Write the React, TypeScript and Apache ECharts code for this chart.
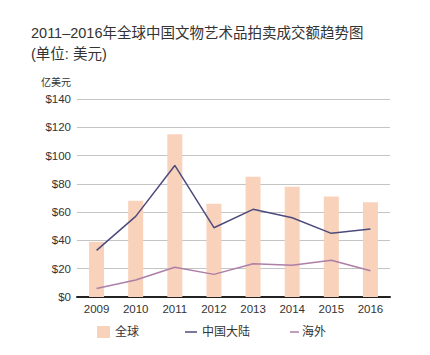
import React, { useEffect, useRef } from "react";
import * as echarts from "echarts";

const years = ["2009", "2010", "2011", "2012", "2013", "2014", "2015", "2016"];
const globalValues = [39, 68, 115, 66, 85, 78, 71, 67];
const mainlandValues = [33, 57, 93, 49, 62, 56, 45, 48];
const overseasValues = [6, 12, 21, 16, 23.5, 22.5, 26, 18.5];
const yTicks = [0, 20, 40, 60, 80, 100, 120, 140];

const FONT = '"Liberation Sans", "Noto Sans CJK SC", sans-serif';

export default function App() {
  const ref = useRef<HTMLDivElement>(null);
  useEffect(() => {
    if (!ref.current) return;
    const chart = echarts.init(ref.current, null, { renderer: "svg" });
    chart.setOption({
      animation: false,
      backgroundColor: "#ffffff",
      title: [
        {
          text: "2011–2016年全球中国文物艺术品拍卖成交额趋势图\n(单位: 美元)",
          left: 31,
          top: 22,
          padding: 0,
          textStyle: { fontFamily: FONT, fontSize: 14.5, fontWeight: "normal", color: "#333", lineHeight: 21.5 },
        },
      ],
      grid: { left: 77, right: 40, top: 99, bottom: 58 },
      xAxis: {
        type: "category",
        data: years,
        boundaryGap: true,
        axisTick: { show: false },
        axisLine: { lineStyle: { color: "#222", width: 2 } },
        axisLabel: { color: "#333", fontSize: 11.5, fontFamily: FONT, margin: 6 },
      },
      yAxis: {
        type: "value",
        min: 0,
        max: 140,
        interval: 20,
        name: "亿美元",
        nameLocation: "end",
        nameGap: 12,
        nameTextStyle: { fontFamily: FONT, fontSize: 10, color: "#333", align: "right", padding: [0, 6, 0, 0] },
        axisLine: { show: false },
        axisTick: { show: false },
        splitLine: { lineStyle: { color: "#c4c4c4", width: 1 } },
        axisLabel: {
          color: "#333",
          fontSize: 11.5,
          fontFamily: FONT,
          margin: 6,
          formatter: (v: number) => (yTicks.includes(v) ? "$" + v : ""),
        },
      },
      series: [
        {
          name: "全球",
          type: "bar",
          data: globalValues,
          barWidth: 15,
          itemStyle: { color: "#f9d2bb" },
          z: 1,
        },
        {
          name: "中国大陆",
          type: "line",
          data: mainlandValues,
          symbol: "none",
          lineStyle: { color: "#4d4b7c", width: 1.5 },
          z: 3,
        },
        {
          name: "海外",
          type: "line",
          data: overseasValues,
          symbol: "none",
          lineStyle: { color: "#ad7fa6", width: 1.5 },
          z: 3,
        },
      ],
      graphic: [
        { type: "rect", shape: { x: 97, y: 326, width: 13, height: 12 }, style: { fill: "#f9d2bb" } },
        { type: "text", x: 115, y: 332, style: { text: "全球", fontFamily: FONT, fontSize: 12, fill: "#333", verticalAlign: "middle" } },
        { type: "line", shape: { x1: 185, y1: 332, x2: 197, y2: 332 }, style: { stroke: "#4d4b7c", lineWidth: 1.5 } },
        { type: "text", x: 202, y: 332, style: { text: "中国大陆", fontFamily: FONT, fontSize: 12, fill: "#333", verticalAlign: "middle" } },
        { type: "line", shape: { x1: 290, y1: 332, x2: 299, y2: 332 }, style: { stroke: "#ad7fa6", lineWidth: 1.5 } },
        { type: "text", x: 302, y: 332, style: { text: "海外", fontFamily: FONT, fontSize: 12, fill: "#333", verticalAlign: "middle" } },
      ],
    });
    return () => chart.dispose();
  }, []);
  return (
    <div
      ref={ref}
      style={{ position: "absolute", left: 0, top: 0, width: 430, height: 355 }}
    />
  );
}
